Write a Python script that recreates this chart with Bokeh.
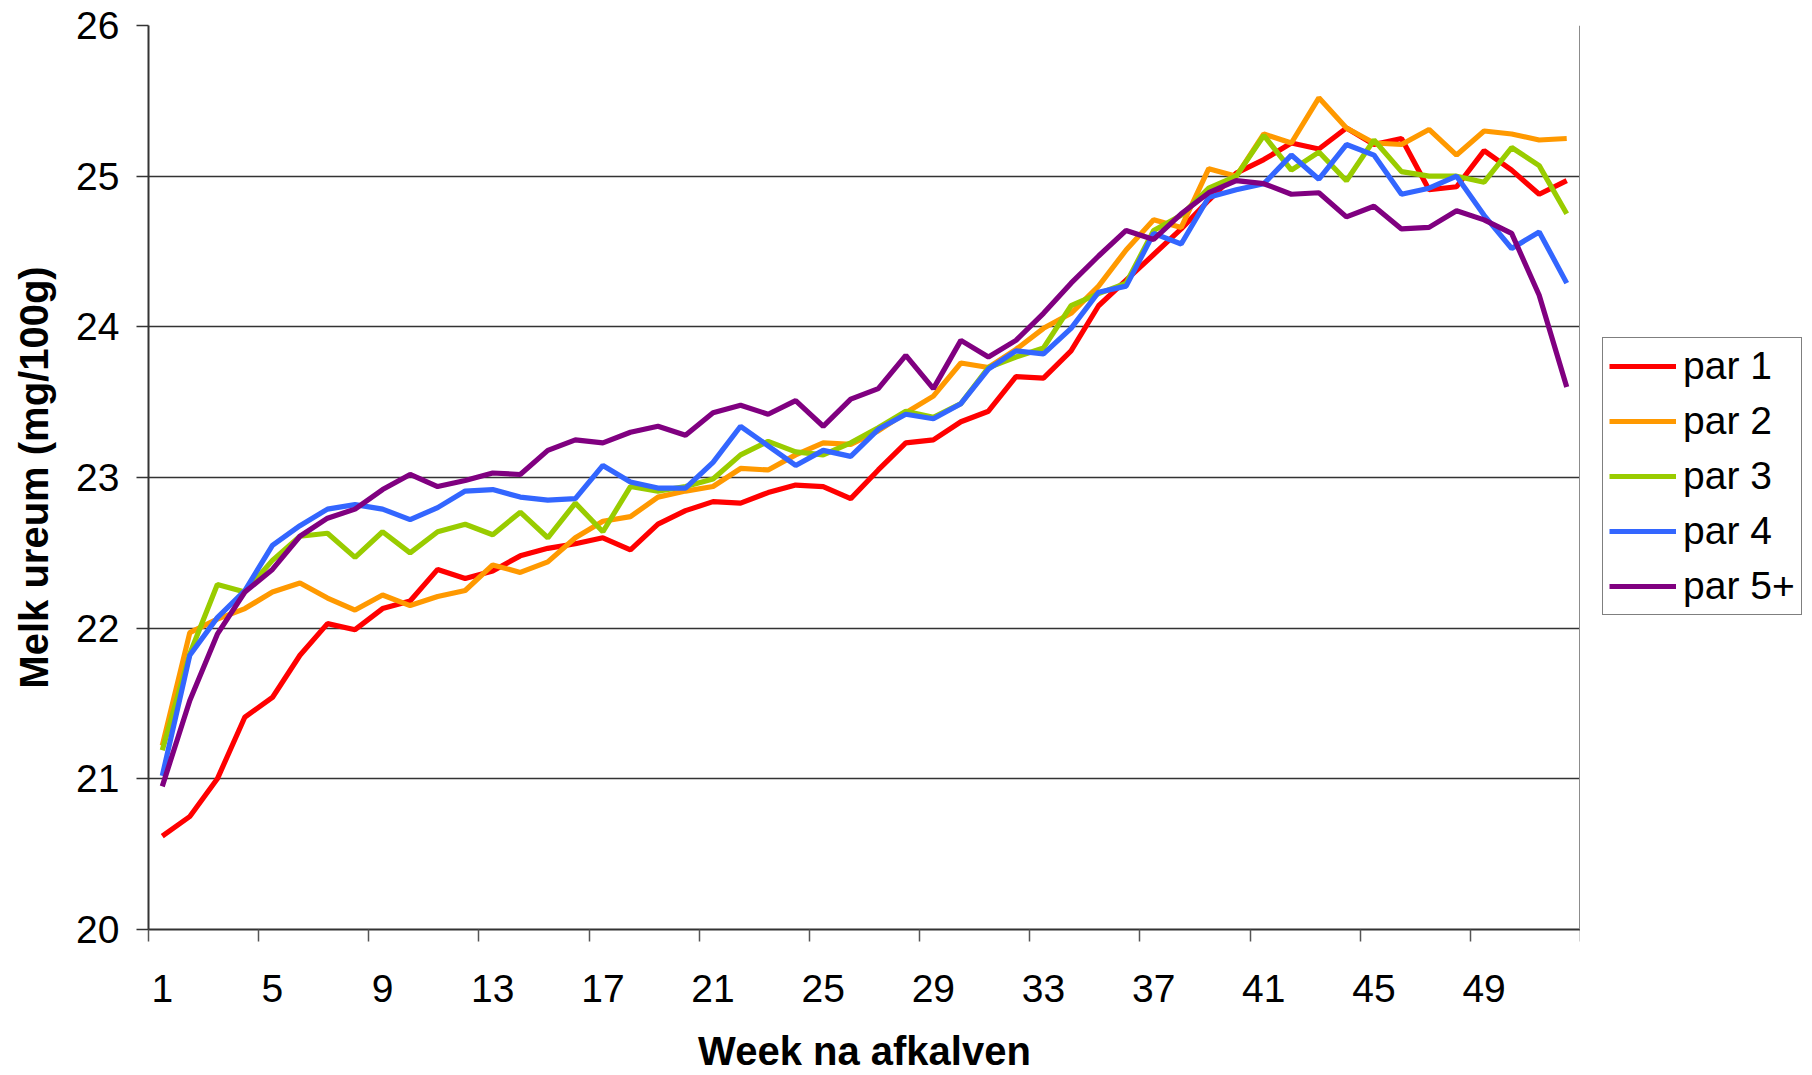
from bokeh.plotting import figure
from bokeh.layouts import row
from bokeh.models import FixedTicker, Legend, LegendItem, Span, Range1d
from bokeh.embed import file_html
from bokeh.resources import INLINE

# ---------------- data ----------------
weeks = list(range(1, 53))

par1 = [20.62, 20.75, 21.00, 21.41, 21.54, 21.82, 22.03, 21.99, 22.13, 22.18,
        22.39, 22.33, 22.38, 22.48, 22.53, 22.56, 22.60, 22.52, 22.69, 22.78,
        22.84, 22.83, 22.90, 22.95, 22.94, 22.86, 23.05, 23.23, 23.25, 23.37,
        23.44, 23.67, 23.66, 23.84, 24.14, 24.31, 24.48, 24.65, 24.84, 25.02,
        25.11, 25.22, 25.18, 25.32, 25.21, 25.25, 24.91, 24.93, 25.17, 25.04,
        24.88, 24.97]

par2 = [21.22, 21.97, 22.06, 22.13, 22.24, 22.30, 22.20, 22.12, 22.22, 22.15,
        22.21, 22.25, 22.42, 22.37, 22.44, 22.60, 22.71, 22.74, 22.87, 22.91,
        22.94, 23.06, 23.05, 23.15, 23.23, 23.22, 23.31, 23.43, 23.54, 23.76,
        23.73, 23.85, 23.99, 24.09, 24.27, 24.51, 24.71, 24.66, 25.05, 25.00,
        25.28, 25.22, 25.52, 25.32, 25.22, 25.21, 25.31, 25.14, 25.30, 25.28,
        25.24, 25.25]

par3 = [21.19, 21.83, 22.29, 22.24, 22.45, 22.61, 22.63, 22.47, 22.64, 22.50,
        22.64, 22.69, 22.62, 22.77, 22.60, 22.83, 22.64, 22.94, 22.91, 22.94,
        22.99, 23.15, 23.24, 23.17, 23.15, 23.23, 23.33, 23.44, 23.40, 23.49,
        23.73, 23.80, 23.86, 24.14, 24.22, 24.29, 24.64, 24.74, 24.92, 25.00,
        25.27, 25.04, 25.16, 24.97, 25.24, 25.03, 25.00, 25.00, 24.96, 25.19,
        25.07, 24.75]

par4 = [21.02, 21.82, 22.07, 22.25, 22.55, 22.68, 22.79, 22.82, 22.79, 22.72,
        22.80, 22.91, 22.92, 22.87, 22.85, 22.86, 23.08, 22.97, 22.93, 22.93,
        23.10, 23.34, 23.21, 23.08, 23.18, 23.14, 23.32, 23.42, 23.39, 23.49,
        23.72, 23.84, 23.82, 23.99, 24.23, 24.27, 24.62, 24.55, 24.86, 24.91,
        24.95, 25.14, 24.98, 25.21, 25.14, 24.88, 24.92, 25.00, 24.74, 24.52,
        24.63, 24.29]

par5 = [20.95, 21.52, 21.96, 22.24, 22.39, 22.61, 22.73, 22.79, 22.92, 23.02,
        22.94, 22.98, 23.03, 23.02, 23.18, 23.25, 23.23, 23.30, 23.34, 23.28,
        23.43, 23.48, 23.42, 23.51, 23.34, 23.52, 23.59, 23.81, 23.59, 23.91,
        23.80, 23.91, 24.09, 24.29, 24.47, 24.64, 24.58, 24.75, 24.89, 24.97,
        24.95, 24.88, 24.89, 24.73, 24.80, 24.65, 24.66, 24.77, 24.71, 24.62,
        24.21, 23.60]

series_names = ["par 1", "par 2", "par 3", "par 4", "par 5+"]
series_values = [par1, par2, par3, par4, par5]
series_colors = ["#FF0000", "#FF9900", "#99CC00", "#3366FF", "#800080"]

x_tick_labels = [1, 5, 9, 13, 17, 21, 25, 29, 33, 37, 41, 45, 49]
y_ticks = [20, 21, 22, 23, 24, 25, 26]

x_title = "Week na afkalven"
y_title = "Melk ureum (mg/100g)"

FONT = "Liberation Sans"
LINE_W = 5.2

# ---------------- main chart ----------------
p = figure(width=1580, height=1075,
           x_range=Range1d(0.5, len(weeks) + 0.5),
           y_range=Range1d(y_ticks[0], y_ticks[-1]),
           output_backend="svg", toolbar_location=None,
           min_border_left=148, min_border_right=0,
           min_border_top=25, min_border_bottom=146,
           background_fill_color="white", border_fill_color="white")
p.outline_line_color = None

for vals, col in zip(series_values, series_colors):
    p.line(weeks, vals, line_color=col, line_width=LINE_W)

p.xgrid.visible = False
p.ygrid.grid_line_color = "#333333"
p.ygrid.grid_line_width = 1.4

# right border of the plot area
p.add_layout(Span(location=len(weeks) + 0.5, dimension="height",
                  line_color="#8c8c8c", line_width=3))

xa = p.xaxis[0]
xa.ticker = FixedTicker(ticks=x_tick_labels,
                        minor_ticks=[w - 0.5 for w in x_tick_labels] + [len(weeks) + 0.5])
xa.major_tick_line_color = None
xa.major_tick_out = 12
xa.major_tick_in = 0
xa.minor_tick_out = 12
xa.minor_tick_in = 0
xa.minor_tick_line_color = "#555555"
xa.minor_tick_line_width = 1.5
xa.axis_line_color = "#333333"
xa.axis_line_width = 2
xa.major_label_text_font = FONT
xa.major_label_text_font_size = "39px"
xa.major_label_text_color = "black"
xa.major_label_standoff = 33
xa.axis_label = x_title
xa.axis_label_text_font = FONT
xa.axis_label_text_font_size = "40px"
xa.axis_label_text_font_style = "bold"
xa.axis_label_text_color = "black"
xa.axis_label_standoff = 24

ya = p.yaxis[0]
ya.ticker = FixedTicker(ticks=y_ticks)
ya.major_tick_out = 12
ya.major_tick_in = 0
ya.major_tick_line_color = "#333333"
ya.major_tick_line_width = 1.5
ya.minor_tick_line_color = None
ya.axis_line_color = "#333333"
ya.axis_line_width = 2
ya.major_label_text_font = FONT
ya.major_label_text_font_size = "39px"
ya.major_label_text_color = "black"
ya.major_label_standoff = 17
ya.axis_label = y_title
ya.axis_label_text_font = FONT
ya.axis_label_text_font_size = "40px"
ya.axis_label_text_font_style = "bold"
ya.axis_label_text_color = "black"
ya.axis_label_standoff = 17

# ---------------- legend panel (right of the plot area) ----------------
pl = figure(width=232, height=1075,
            x_range=Range1d(0, 1), y_range=Range1d(0, 1),
            x_axis_type=None, y_axis_type=None,
            output_backend="svg", toolbar_location=None,
            min_border=0, background_fill_color="white", border_fill_color="white")
pl.outline_line_color = None
pl.grid.visible = False

# same series, outside this panel's view: only their legend swatches show
key_renderers = [pl.line(weeks, vals, line_color=col, line_width=LINE_W)
                 for vals, col in zip(series_values, series_colors)]

legend = Legend(items=[LegendItem(label=n, renderers=[r]) for n, r in zip(series_names, key_renderers)],
                location=(22, 314), orientation="vertical",
                border_line_color="black", border_line_width=1.2,
                background_fill_color="white", background_fill_alpha=1.0,
                label_text_font=FONT, label_text_font_size="39px",
                label_text_color="black",
                glyph_width=67, glyph_height=40, label_height=40,
                label_standoff=7, spacing=11, padding=6, margin=0)
pl.add_layout(legend)

layout = row(p, pl, spacing=0)
open("out.html", "w").write(file_html(layout, INLINE))
